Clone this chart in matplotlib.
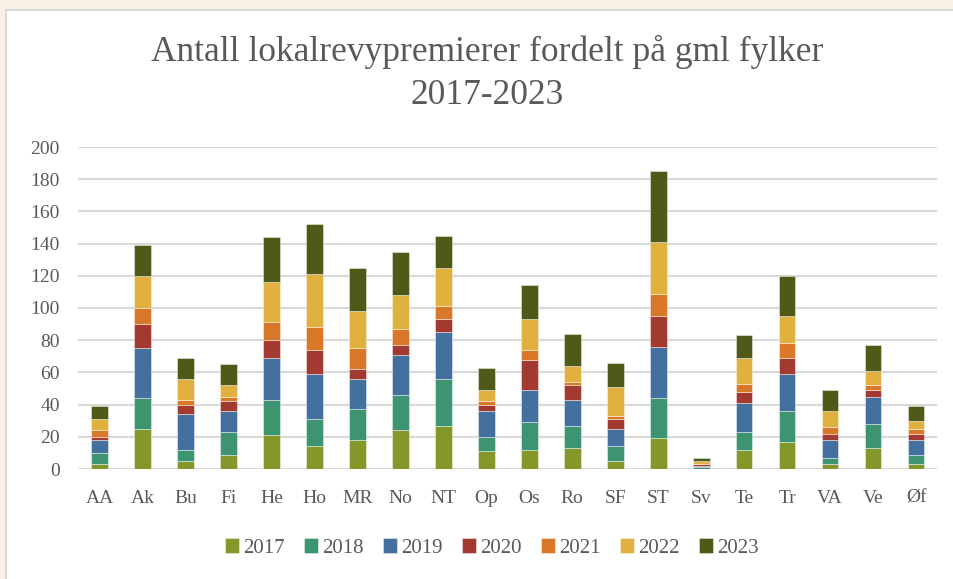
import numpy as np
import matplotlib
matplotlib.use('Agg')
import matplotlib.pyplot as plt
from matplotlib.patches import Rectangle

fylker = ['AA', 'Ak', 'Bu', 'Fi', 'He', 'Ho', 'MR', 'No', 'NT', 'Op',
          'Os', 'Ro', 'SF', 'ST', 'Sv', 'Te', 'Tr', 'VA', 'Ve', 'Øf']
years = ['2017', '2018', '2019', '2020', '2021', '2022', '2023']

v2017 = [3, 25, 5, 9, 21, 14, 18, 24, 27, 11, 12, 13, 5, 19, 0, 12, 17, 3, 13, 3]
v2018 = [7, 19, 7, 14, 22, 17, 19, 22, 29, 9, 17, 14, 9, 25, 1, 11, 19, 4, 15, 6]
v2019 = [8, 31, 22, 13, 26, 28, 19, 25, 29, 16, 20, 16, 11, 32, 1, 18, 23, 11, 17, 9]
v2020 = [2, 15, 6, 6, 11, 15, 6, 6, 8, 4, 19, 9, 6, 19, 1, 7, 10, 4, 4, 4]
v2021 = [4, 10, 3, 3, 11, 14, 13, 10, 8, 2, 6, 2, 2, 14, 0, 5, 9, 4, 3, 3]
v2022 = [7, 20, 13, 7, 25, 33, 23, 21, 24, 7, 19, 10, 18, 32, 2, 16, 17, 10, 9, 5]
v2023 = [8, 19, 13, 13, 28, 31, 27, 27, 20, 14, 21, 20, 15, 44, 2, 14, 25, 13, 16, 9]

series = [v2017, v2018, v2019, v2020, v2021, v2022, v2023]
colors = ['#84982A', '#3C9570', '#43709E', '#A23A32', '#D97828', '#E0B13E', '#4F5A18']

plt.rcParams['font.family'] = ['Liberation Serif', 'DejaVu Serif']
txt = '#595959'

fig = plt.figure(figsize=(9.54, 5.79), dpi=100)
fig.patch.set_facecolor('#FAF0E4')
fig.patches.append(Rectangle((6.5 / 954, -0.01), 1.0, 1 - 10.5 / 579 + 0.01,
                             transform=fig.transFigure, facecolor='white',
                             edgecolor='#D9D9D9', linewidth=1.5, zorder=-10))

ax = fig.add_axes([78 / 954, 1 - 469 / 579, (937.5 - 78) / 954, (469 - 147) / 579])
ax.set_facecolor('none')

x = np.arange(len(fylker))
bottom = np.zeros(len(fylker))
for yr, vals, c in zip(years, series, colors):
    ax.bar(x, vals, 0.39, bottom=bottom, color=c, label=yr,
           edgecolor=(1, 1, 1, 0.5), linewidth=0.6, zorder=3)
    bottom += np.array(vals)

ax.set_ylim(0, 200)
ax.set_xlim(-0.5, len(fylker) - 0.5)
ax.set_yticks(range(0, 201, 20))
ax.set_xticks(x)
ax.set_xticklabels(fylker)
ax.grid(axis='y', color='#D9D9D9', linewidth=1.5, zorder=0)
ax.tick_params(length=0, labelsize=14, colors=txt)
ax.tick_params(axis='y', pad=13)
ax.tick_params(axis='x', pad=15)
for s in ax.spines.values():
    s.set_visible(False)

fig.text(487 / 954, 1 - 52 / 579, 'Antall lokalrevypremierer fordelt på gml fylker',
         ha='center', va='center', fontsize=25.5, color=txt)
fig.text(487 / 954, 1 - 95 / 579, '2017-2023',
         ha='center', va='center', fontsize=25.5, color=txt)

fig.legend(loc='center', bbox_to_anchor=(492 / 954, 1 - 548 / 579), ncol=7,
           frameon=False, fontsize=15, labelcolor=txt, handlelength=0.7,
           handleheight=0.7, handletextpad=0.2, columnspacing=0.9)

plt.savefig('out.png', dpi=100)
